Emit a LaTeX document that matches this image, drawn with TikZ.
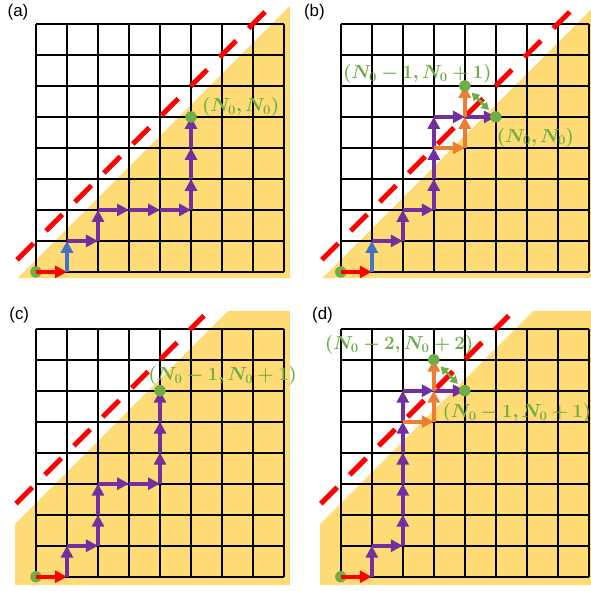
\documentclass[tikz,border=0pt]{standalone}
\usepackage{amsmath,bm}
\usepackage{fontspec}
\setsansfont{Liberation Sans}
\usepackage{tikz}
\usetikzlibrary{arrows.meta}
\definecolor{walkred}{HTML}{FF0000}
\definecolor{walkblue}{HTML}{4472C4}
\definecolor{walkpurple}{HTML}{7030A0}
\definecolor{walkorange}{HTML}{ED7D31}
\definecolor{walkgreen}{HTML}{70AD47}
\definecolor{walkgold}{HTML}{FFDB75}

\begin{document}
\begin{tikzpicture}[
    gridline/.style={line width=1.8pt,black},
    wall/.style={walkred,line width=4.6pt,dash pattern=on 0.75cm off 0.57cm},
    hop/.style={line width=3.6pt,-{Triangle[length=11pt,width=11pt]}},
    swap/.style={walkgreen,line width=2.4pt,{Triangle[length=7pt,width=8pt]}-{Triangle[length=7pt,width=8pt]},shorten <=0.12cm,shorten >=0.12cm},
    site/.style={circle,fill=walkgreen,inner sep=0pt,minimum size=10.5pt},
    coord/.style={walkgreen,inner sep=0pt,font=\fontsize{17}{20}\selectfont},
    tag/.style={font=\sffamily\fontsize{15.5}{18}\selectfont,inner sep=0pt}]
  \useasboundingbox (-1.16,-0.46) rectangle (17.87,18.60);

  % (a)
  \begin{scope}[shift={(0,9.83)}]
    \foreach \i in {0,...,8}{\foreach \j in {0,...,8}{\coordinate (a\i\j) at (\i,\j);}}
    \fill[walkgold] (-0.587,-0.2) -- (8.19,8.58) -- (8.19,-0.2) -- cycle;
    \draw[gridline] (a00) grid (a88);
    \coordinate (aw0) at (-0.61,0.39);
    \coordinate (aw1) at (7.39,8.39);
    \draw[wall] (aw0) -- (aw1);
    \node[site] (astart) at (a00) {};
    \draw[hop,walkred] (a00) -- (a10);
    \draw[hop,walkblue] (a10) -- (a11);
    \foreach \s/\t in {11/21,21/22,22/32,32/42,42/52,52/53,53/54,54/55}
      \draw[hop,walkpurple] (a\s) -- (a\t);
    \node[site] (aend) at (a55) {};
    \node[coord,anchor=west] (alab) at (5.35,5.31) {$\bm{(N_0, N_0)}$};
    \node[tag] (atag) at (-0.58,8.39) {(a)};
  \end{scope}

  % (b)
  \begin{scope}[shift={(9.83,9.83)}]
    \foreach \i in {0,...,8}{\foreach \j in {0,...,8}{\coordinate (b\i\j) at (\i,\j);}}
    \fill[walkgold] (-0.587,-0.2) -- (8.19,8.58) -- (8.19,-0.2) -- cycle;
    \draw[gridline] (b00) grid (b88);
    \coordinate (bw0) at (-0.61,0.39);
    \coordinate (bw1) at (7.39,8.39);
    \draw[wall] (bw0) -- (bw1);
    \node[site] (bstart) at (b00) {};
    \draw[hop,walkred] (b00) -- (b10);
    \draw[hop,walkblue] (b10) -- (b11);
    \foreach \s/\t in {11/21,21/22,22/32,32/33,33/34,34/35,35/45,45/55}
      \draw[hop,walkpurple] (b\s) -- (b\t);
    \foreach \s/\t in {34/44,44/45,45/46}
      \draw[hop,walkorange] (b\s) -- (b\t);
    \node[site] (bend) at (b55) {};
    \node[site] (bflip) at (b46) {};
    \draw[swap] (bflip) -- (bend);
    \node[coord,anchor=east] (bflab) at (4.87,6.4) {$\bm{(N_0-1, N_0+1)}$};
    \node[coord,anchor=west] (belab) at (5.03,4.34) {$\bm{(N_0, N_0)}$};
    \node[tag] (btag) at (-0.85,8.38) {(b)};
  \end{scope}

  % (c)
  \begin{scope}
    \foreach \i in {0,...,8}{\foreach \j in {0,...,8}{\coordinate (c\i\j) at (\i,\j);}}
    \fill[walkgold] (-0.67,-0.26) -- (-0.67,1.7) -- (6.2,8.57) -- (8.19,8.57) -- (8.19,-0.26) -- cycle;
    \draw[gridline] (c00) grid (c88);
    \coordinate (cw0) at (-0.645,2.355);
    \coordinate (cw1) at (5.42,8.42);
    \draw[wall] (cw0) -- (cw1);
    \node[site] (cstart) at (c00) {};
    \draw[hop,walkred] (c00) -- (c10);
    \foreach \s/\t in {10/11,11/21,21/22,22/23,23/33,33/43,43/44,44/45,45/46}
      \draw[hop,walkpurple] (c\s) -- (c\t);
    \node[site] (cend) at (c46) {};
    \node[coord,anchor=west] (clab) at (3.62,6.48) {$\bm{(N_0-1, N_0+1)}$};
    \node[tag] (ctag) at (-0.54,8.43) {(c)};
  \end{scope}

  % (d)
  \begin{scope}[shift={(9.83,0)}]
    \foreach \i in {0,...,8}{\foreach \j in {0,...,8}{\coordinate (d\i\j) at (\i,\j);}}
    \fill[walkgold] (-0.67,-0.26) -- (-0.67,1.7) -- (6.2,8.57) -- (8.19,8.57) -- (8.19,-0.26) -- cycle;
    \draw[gridline] (d00) grid (d88);
    \coordinate (dw0) at (-0.645,2.355);
    \coordinate (dw1) at (5.42,8.42);
    \draw[wall] (dw0) -- (dw1);
    \node[site] (dstart) at (d00) {};
    \draw[hop,walkred] (d00) -- (d10);
    \foreach \s/\t in {10/11,11/21,21/22,22/23,23/24,24/25,25/26,26/36,36/46}
      \draw[hop,walkpurple] (d\s) -- (d\t);
    \foreach \s/\t in {25/35,35/36,36/37}
      \draw[hop,walkorange] (d\s) -- (d\t);
    \node[site] (dend) at (d46) {};
    \node[site] (dflip) at (d37) {};
    \draw[swap] (dflip) -- (dend);
    \node[coord,anchor=east] (dflab) at (4.28,7.47) {$\bm{(N_0-2, N_0+2)}$};
    \node[coord,anchor=west] (delab) at (3.28,5.28) {$\bm{(N_0-1, N_0+1)}$};
    \node[tag] (dtag) at (-0.59,8.43) {(d)};
  \end{scope}
\end{tikzpicture}
\end{document}
